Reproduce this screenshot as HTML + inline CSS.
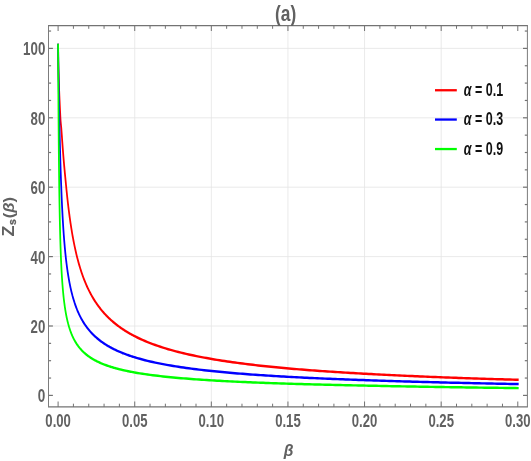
<!DOCTYPE html>
<html><head><meta charset="utf-8"><style>
html,body{margin:0;padding:0;background:#fff;}
svg{display:block;will-change:transform;}
text{font-family:"Liberation Sans",sans-serif;font-weight:bold;}
.tk{font-size:17.5px;fill:#616161;}
.lg{font-size:17.5px;fill:#111;}
</style></head><body>
<svg width="531" height="461" viewBox="0 0 531 461">
<rect width="531" height="461" fill="#fff"/>
<line x1="134.72" y1="25.5" x2="134.72" y2="407.0" stroke="#e4e4e4" stroke-width="0.8"/><line x1="211.33" y1="25.5" x2="211.33" y2="407.0" stroke="#e4e4e4" stroke-width="0.8"/><line x1="287.95" y1="25.5" x2="287.95" y2="407.0" stroke="#e4e4e4" stroke-width="0.8"/><line x1="364.56" y1="25.5" x2="364.56" y2="407.0" stroke="#e4e4e4" stroke-width="0.8"/><line x1="441.18" y1="25.5" x2="441.18" y2="407.0" stroke="#e4e4e4" stroke-width="0.8"/><line x1="48.5" y1="326.00" x2="527.4" y2="326.00" stroke="#e4e4e4" stroke-width="0.8"/><line x1="48.5" y1="256.60" x2="527.4" y2="256.60" stroke="#e4e4e4" stroke-width="0.8"/><line x1="48.5" y1="187.20" x2="527.4" y2="187.20" stroke="#e4e4e4" stroke-width="0.8"/><line x1="48.5" y1="117.80" x2="527.4" y2="117.80" stroke="#e4e4e4" stroke-width="0.8"/><line x1="48.5" y1="48.40" x2="527.4" y2="48.40" stroke="#e4e4e4" stroke-width="0.8"/>
<clipPath id="c"><rect x="48.5" y="25.5" width="478.9" height="381.5"/></clipPath>
<g clip-path="url(#c)"><g transform="scale(0.72,1)"><path d="M80.69,44.93 L80.87,59.72 L81.05,66.10 L81.23,71.17 L81.41,75.57 L81.59,79.56 L81.77,83.26 L81.95,86.75 L82.13,90.07 L82.30,93.25 L82.48,96.32 L82.66,99.29 L82.84,102.18 L83.02,104.99 L83.20,107.74 L83.38,110.42 L83.56,113.06 L83.73,115.64 L83.91,118.17 L84.09,120.30 L84.27,121.96 L84.45,123.35 L84.63,124.59 L84.81,125.81 L84.99,127.12 L85.17,128.61 L85.34,130.33 L85.52,132.11 L85.70,133.90 L85.88,135.70 L86.06,137.49 L86.24,139.27 L86.42,141.05 L86.60,142.82 L86.78,144.57 L86.95,146.31 L87.13,148.03 L87.31,149.73 L87.49,151.41 L87.67,153.06 L87.85,154.69 L88.03,156.30 L88.21,157.88 L88.38,159.43 L88.56,160.95 L88.74,162.43 L88.92,163.90 L89.10,165.34 L89.28,166.76 L89.46,168.16 L89.64,169.55 L89.82,170.92 L89.99,172.29 L90.17,173.64 L90.35,174.99 L90.53,176.33 L90.71,177.66 L90.89,178.99 L91.07,180.32 L91.25,181.65 L91.42,182.97 L91.60,184.30 L91.78,185.63 L91.96,186.96 L92.14,188.28 L92.32,189.59 L92.50,190.88 L92.68,192.15 L92.86,193.40 L93.03,194.64 L93.21,195.86 L93.39,197.06 L93.57,198.25 L93.75,199.42 L93.93,200.58 L94.11,201.72 L94.29,202.85 L94.47,203.96 L94.64,205.06 L94.82,206.14 L95.00,207.21 L95.18,208.27 L95.36,209.31 L95.54,210.34 L95.72,211.36 L95.90,212.36 L96.07,213.35 L96.25,214.33 L96.43,215.30 L96.61,216.26 L96.79,217.20 L96.97,218.13 L97.15,219.06 L97.33,219.97 L97.51,220.87 L97.68,221.76 L97.86,222.64 L98.04,223.50 L98.22,224.36 L98.40,225.21 L98.58,226.05 L98.76,226.88 L98.94,227.70 L99.11,228.51 L99.29,229.31 L99.47,230.10 L99.65,230.89 L99.83,231.66 L100.01,232.43 L100.19,233.18 L100.37,233.93 L100.55,234.67 L100.72,235.41 L100.90,236.13 L101.08,236.85 L101.26,237.56 L101.44,238.26 L101.62,238.96 L101.80,239.64 L101.98,240.32 L102.84,243.50 L103.70,246.52 L104.56,249.40 L105.42,252.15 L106.28,254.77 L107.14,257.28 L108.00,259.69 L108.86,261.99 L109.72,264.20 L110.58,266.32 L111.44,268.36 L112.29,270.32 L113.15,272.20 L114.01,274.02 L114.87,275.78 L115.73,277.47 L116.59,279.10 L117.45,280.68 L118.31,282.21 L119.17,283.69 L120.03,285.12 L120.89,286.50 L121.75,287.85 L122.61,289.15 L123.47,290.42 L124.33,291.65 L125.19,292.84 L126.05,294.00 L126.91,295.13 L127.77,296.23 L128.63,297.30 L129.49,298.35 L130.35,299.36 L131.21,300.35 L132.07,301.32 L132.93,302.26 L133.79,303.18 L134.65,304.08 L135.51,304.96 L136.37,305.81 L137.23,306.65 L138.09,307.47 L138.95,308.27 L139.81,309.05 L140.67,309.82 L141.53,310.57 L142.39,311.31 L143.25,312.03 L144.11,312.73 L144.97,313.42 L145.83,314.10 L146.69,314.77 L147.55,315.42 L148.41,316.06 L149.27,316.69 L150.13,317.30 L150.99,317.91 L151.85,318.50 L152.71,319.08 L153.57,319.65 L154.43,320.22 L155.29,320.77 L156.15,321.31 L157.01,321.85 L157.87,322.37 L158.73,322.89 L159.59,323.39 L160.45,323.89 L161.31,324.38 L162.17,324.87 L163.03,325.34 L163.89,325.81 L164.75,326.27 L165.61,326.73 L166.47,327.17 L167.33,327.61 L168.19,328.05 L169.05,328.48 L169.91,328.90 L170.77,329.31 L171.63,329.72 L172.49,330.12 L173.35,330.52 L174.21,330.91 L175.07,331.30 L175.93,331.68 L176.79,332.06 L177.65,332.43 L178.51,332.79 L179.37,333.15 L180.23,333.51 L181.09,333.86 L181.94,334.21 L182.80,334.55 L183.66,334.89 L184.52,335.22 L185.38,335.55 L186.24,335.88 L187.10,336.20 L190.67,337.49 L194.25,338.72 L197.82,339.89 L201.39,341.01 L204.96,342.08 L208.53,343.10 L212.10,344.08 L215.67,345.02 L219.24,345.91 L222.81,346.78 L226.38,347.61 L229.95,348.41 L233.52,349.18 L237.10,349.92 L240.67,350.63 L244.24,351.33 L247.81,351.99 L251.38,352.64 L254.95,353.26 L258.52,353.87 L262.09,354.45 L265.66,355.02 L269.23,355.57 L272.80,356.10 L276.37,356.62 L279.94,357.12 L283.52,357.61 L287.09,358.08 L290.66,358.54 L294.23,358.99 L297.80,359.43 L301.37,359.86 L304.94,360.27 L308.51,360.67 L312.08,361.07 L315.65,361.45 L319.22,361.83 L322.79,362.19 L326.37,362.55 L329.94,362.90 L333.51,363.24 L337.08,363.57 L340.65,363.89 L344.22,364.21 L347.79,364.52 L351.36,364.83 L354.93,365.12 L358.50,365.41 L362.07,365.70 L365.64,365.98 L369.21,366.25 L372.79,366.52 L376.36,366.78 L379.93,367.04 L383.50,367.29 L387.07,367.54 L390.64,367.78 L394.21,368.02 L397.78,368.25 L401.35,368.48 L404.92,368.70 L408.49,368.92 L412.06,369.14 L415.64,369.35 L419.21,369.56 L422.78,369.77 L426.35,369.97 L429.92,370.17 L433.49,370.36 L437.06,370.55 L440.63,370.74 L444.20,370.93 L447.77,371.11 L451.34,371.29 L454.91,371.46 L458.48,371.64 L462.06,371.81 L465.63,371.98 L469.20,372.14 L472.77,372.30 L476.34,372.46 L479.91,372.62 L483.48,372.78 L487.05,372.93 L490.62,373.08 L494.19,373.23 L497.76,373.37 L501.33,373.52 L504.91,373.66 L508.48,373.80 L512.05,373.95 L515.62,374.09 L519.19,374.22 L522.76,374.36 L526.33,374.50 L529.90,374.63 L533.47,374.76 L537.04,374.89 L540.61,375.02 L544.18,375.14 L547.75,375.27 L551.33,375.39 L554.90,375.51 L558.47,375.63 L562.04,375.75 L565.61,375.86 L569.18,375.98 L572.75,376.09 L576.32,376.21 L579.89,376.32 L583.46,376.43 L587.03,376.53 L590.60,376.64 L594.17,376.75 L597.75,376.85 L601.32,376.95 L604.89,377.05 L608.46,377.15 L612.03,377.25 L615.60,377.35 L619.17,377.45 L622.74,377.54 L626.31,377.64 L629.88,377.73 L633.45,377.83 L637.02,377.92 L640.60,378.01 L644.17,378.10 L647.74,378.19 L651.31,378.27 L654.88,378.36 L658.45,378.45 L662.02,378.53 L665.59,378.61 L669.16,378.70 L672.73,378.78 L676.30,378.86 L679.87,378.94 L683.44,379.02 L687.02,379.10 L690.59,379.18 L694.16,379.25 L697.73,379.33 L701.30,379.41 L704.87,379.48 L708.44,379.55 L712.01,379.63 L715.58,379.70 L719.15,379.77" fill="none" stroke="#ff0000" stroke-width="2.45" stroke-linejoin="round" stroke-linecap="square"/><path d="M80.69,44.93 L80.87,54.43 L81.05,63.47 L81.23,72.07 L81.41,80.27 L81.59,88.08 L81.77,95.53 L81.95,102.63 L82.13,109.42 L82.30,115.89 L82.48,122.08 L82.66,128.00 L82.84,133.66 L83.02,139.08 L83.20,144.26 L83.38,149.23 L83.56,154.00 L83.73,158.56 L83.91,162.95 L84.09,167.15 L84.27,171.19 L84.45,175.08 L84.63,178.81 L84.81,182.40 L84.99,185.86 L85.17,189.19 L85.34,192.40 L85.52,195.49 L85.70,198.47 L85.88,201.34 L86.06,204.12 L86.24,206.80 L86.42,209.40 L86.60,211.90 L86.78,214.32 L86.95,216.67 L87.13,218.94 L87.31,221.14 L87.49,223.27 L87.67,225.33 L87.85,227.33 L88.03,229.28 L88.21,231.16 L88.38,232.99 L88.56,234.77 L88.74,236.50 L88.92,238.18 L89.10,239.81 L89.28,241.40 L89.46,242.95 L89.64,244.46 L89.82,245.92 L89.99,247.35 L90.17,248.75 L90.35,250.11 L90.53,251.43 L90.71,252.72 L90.89,253.99 L91.07,255.22 L91.25,256.42 L91.42,257.60 L91.60,258.75 L91.78,259.87 L91.96,260.97 L92.14,262.04 L92.32,263.10 L92.50,264.13 L92.68,265.13 L92.86,266.12 L93.03,267.08 L93.21,268.03 L93.39,268.96 L93.57,269.87 L93.75,270.76 L93.93,271.63 L94.11,272.49 L94.29,273.33 L94.47,274.16 L94.64,274.97 L94.82,275.76 L95.00,276.55 L95.18,277.31 L95.36,278.07 L95.54,278.81 L95.72,279.54 L95.90,280.25 L96.07,280.96 L96.25,281.65 L96.43,282.33 L96.61,283.00 L96.79,283.66 L96.97,284.31 L97.15,284.94 L97.33,285.57 L97.51,286.19 L97.68,286.80 L97.86,287.40 L98.04,287.99 L98.22,288.57 L98.40,289.14 L98.58,289.71 L98.76,290.26 L98.94,290.81 L99.11,291.35 L99.29,291.89 L99.47,292.41 L99.65,292.93 L99.83,293.44 L100.01,293.95 L100.19,294.45 L100.37,294.94 L100.55,295.42 L100.72,295.90 L100.90,296.37 L101.08,296.84 L101.26,297.30 L101.44,297.75 L101.62,298.20 L101.80,298.65 L101.98,299.08 L102.84,301.12 L103.70,303.04 L104.56,304.85 L105.42,306.58 L106.28,308.22 L107.14,309.78 L108.00,311.26 L108.86,312.68 L109.72,314.04 L110.58,315.34 L111.44,316.58 L112.29,317.78 L113.15,318.93 L114.01,320.03 L114.87,321.10 L115.73,322.12 L116.59,323.11 L117.45,324.06 L118.31,324.99 L119.17,325.88 L120.03,326.74 L120.89,327.57 L121.75,328.38 L122.61,329.17 L123.47,329.93 L124.33,330.67 L125.19,331.38 L126.05,332.08 L126.91,332.76 L127.77,333.42 L128.63,334.06 L129.49,334.68 L130.35,335.29 L131.21,335.89 L132.07,336.46 L132.93,337.03 L133.79,337.58 L134.65,338.12 L135.51,338.64 L136.37,339.15 L137.23,339.66 L138.09,340.15 L138.95,340.62 L139.81,341.09 L140.67,341.55 L141.53,342.00 L142.39,342.44 L143.25,342.87 L144.11,343.29 L144.97,343.70 L145.83,344.11 L146.69,344.51 L147.55,344.90 L148.41,345.28 L149.27,345.65 L150.13,346.02 L150.99,346.38 L151.85,346.74 L152.71,347.08 L153.57,347.43 L154.43,347.76 L155.29,348.09 L156.15,348.42 L157.01,348.73 L157.87,349.05 L158.73,349.36 L159.59,349.66 L160.45,349.96 L161.31,350.25 L162.17,350.54 L163.03,350.82 L163.89,351.10 L164.75,351.38 L165.61,351.65 L166.47,351.92 L167.33,352.18 L168.19,352.44 L169.05,352.70 L169.91,352.95 L170.77,353.20 L171.63,353.44 L172.49,353.68 L173.35,353.92 L174.21,354.15 L175.07,354.38 L175.93,354.61 L176.79,354.84 L177.65,355.06 L178.51,355.28 L179.37,355.49 L180.23,355.70 L181.09,355.92 L181.94,356.12 L182.80,356.33 L183.66,356.53 L184.52,356.73 L185.38,356.93 L186.24,357.12 L187.10,357.31 L190.67,358.09 L194.25,358.82 L197.82,359.53 L201.39,360.20 L204.96,360.84 L208.53,361.45 L212.10,362.04 L215.67,362.60 L219.24,363.14 L222.81,363.66 L226.38,364.16 L229.95,364.64 L233.52,365.10 L237.10,365.55 L240.67,365.98 L244.24,366.40 L247.81,366.80 L251.38,367.19 L254.95,367.57 L258.52,367.93 L262.09,368.28 L265.66,368.63 L269.23,368.96 L272.80,369.28 L276.37,369.60 L279.94,369.90 L283.52,370.20 L287.09,370.49 L290.66,370.77 L294.23,371.04 L297.80,371.31 L301.37,371.56 L304.94,371.82 L308.51,372.06 L312.08,372.30 L315.65,372.54 L319.22,372.77 L322.79,372.99 L326.37,373.21 L329.94,373.42 L333.51,373.63 L337.08,373.83 L340.65,374.03 L344.22,374.23 L347.79,374.42 L351.36,374.61 L354.93,374.79 L358.50,374.97 L362.07,375.14 L365.64,375.31 L369.21,375.48 L372.79,375.65 L376.36,375.81 L379.93,375.97 L383.50,376.12 L387.07,376.28 L390.64,376.43 L394.21,376.57 L397.78,376.72 L401.35,376.86 L404.92,377.00 L408.49,377.13 L412.06,377.27 L415.64,377.40 L419.21,377.53 L422.78,377.66 L426.35,377.78 L429.92,377.91 L433.49,378.03 L437.06,378.15 L440.63,378.26 L444.20,378.38 L447.77,378.49 L451.34,378.60 L454.91,378.71 L458.48,378.82 L462.06,378.93 L465.63,379.03 L469.20,379.14 L472.77,379.24 L476.34,379.34 L479.91,379.44 L483.48,379.54 L487.05,379.63 L490.62,379.73 L494.19,379.82 L497.76,379.91 L501.33,380.00 L504.91,380.09 L508.48,380.18 L512.05,380.27 L515.62,380.36 L519.19,380.45 L522.76,380.54 L526.33,380.63 L529.90,380.71 L533.47,380.80 L537.04,380.88 L540.61,380.96 L544.18,381.04 L547.75,381.12 L551.33,381.20 L554.90,381.28 L558.47,381.36 L562.04,381.43 L565.61,381.51 L569.18,381.58 L572.75,381.66 L576.32,381.73 L579.89,381.80 L583.46,381.87 L587.03,381.94 L590.60,382.01 L594.17,382.08 L597.75,382.15 L601.32,382.21 L604.89,382.28 L608.46,382.34 L612.03,382.41 L615.60,382.47 L619.17,382.54 L622.74,382.60 L626.31,382.66 L629.88,382.72 L633.45,382.78 L637.02,382.84 L640.60,382.90 L644.17,382.96 L647.74,383.02 L651.31,383.07 L654.88,383.13 L658.45,383.19 L662.02,383.24 L665.59,383.30 L669.16,383.35 L672.73,383.40 L676.30,383.46 L679.87,383.51 L683.44,383.56 L687.02,383.61 L690.59,383.66 L694.16,383.72 L697.73,383.77 L701.30,383.82 L704.87,383.86 L708.44,383.91 L712.01,383.96 L715.58,384.01 L719.15,384.06" fill="none" stroke="#0000ff" stroke-width="2.45" stroke-linejoin="round" stroke-linecap="square"/><path d="M80.69,44.93 L80.87,69.94 L81.05,91.82 L81.23,111.02 L81.41,127.94 L81.59,142.91 L81.77,156.21 L81.95,168.07 L82.13,178.68 L82.30,188.21 L82.48,196.80 L82.66,204.58 L82.84,211.65 L83.02,218.10 L83.20,223.99 L83.38,229.40 L83.56,234.38 L83.73,238.98 L83.91,243.24 L84.09,247.20 L84.27,250.89 L84.45,254.33 L84.63,257.56 L84.81,260.58 L84.99,263.43 L85.17,266.11 L85.34,268.64 L85.52,271.04 L85.70,273.31 L85.88,275.46 L86.06,277.52 L86.24,279.47 L86.42,281.33 L86.60,283.11 L86.78,284.82 L86.95,286.45 L87.13,288.01 L87.31,289.51 L87.49,290.96 L87.67,292.34 L87.85,293.68 L88.03,294.97 L88.21,296.21 L88.38,297.41 L88.56,298.57 L88.74,299.69 L88.92,300.77 L89.10,301.82 L89.28,302.84 L89.46,303.83 L89.64,304.78 L89.82,305.71 L89.99,306.61 L90.17,307.49 L90.35,308.35 L90.53,309.18 L90.71,309.98 L90.89,310.77 L91.07,311.54 L91.25,312.28 L91.42,313.01 L91.60,313.72 L91.78,314.42 L91.96,315.10 L92.14,315.76 L92.32,316.41 L92.50,317.04 L92.68,317.66 L92.86,318.26 L93.03,318.85 L93.21,319.43 L93.39,320.00 L93.57,320.55 L93.75,321.10 L93.93,321.63 L94.11,322.15 L94.29,322.66 L94.47,323.17 L94.64,323.66 L94.82,324.14 L95.00,324.62 L95.18,325.08 L95.36,325.54 L95.54,325.99 L95.72,326.43 L95.90,326.86 L96.07,327.29 L96.25,327.71 L96.43,328.12 L96.61,328.52 L96.79,328.92 L96.97,329.31 L97.15,329.70 L97.33,330.08 L97.51,330.45 L97.68,330.82 L97.86,331.18 L98.04,331.53 L98.22,331.88 L98.40,332.23 L98.58,332.57 L98.76,332.90 L98.94,333.23 L99.11,333.56 L99.29,333.88 L99.47,334.20 L99.65,334.51 L99.83,334.81 L100.01,335.12 L100.19,335.42 L100.37,335.71 L100.55,336.00 L100.72,336.29 L100.90,336.57 L101.08,336.85 L101.26,337.13 L101.44,337.40 L101.62,337.67 L101.80,337.93 L101.98,338.20 L102.84,339.41 L103.70,340.56 L104.56,341.64 L105.42,342.67 L106.28,343.65 L107.14,344.58 L108.00,345.46 L108.86,346.31 L109.72,347.11 L110.58,347.89 L111.44,348.62 L112.29,349.33 L113.15,350.01 L114.01,350.67 L114.87,351.30 L115.73,351.90 L116.59,352.49 L117.45,353.05 L118.31,353.59 L119.17,354.12 L120.03,354.63 L120.89,355.12 L121.75,355.60 L122.61,356.06 L123.47,356.51 L124.33,356.94 L125.19,357.36 L126.05,357.77 L126.91,358.17 L127.77,358.56 L128.63,358.93 L129.49,359.30 L130.35,359.66 L131.21,360.01 L132.07,360.34 L132.93,360.68 L133.79,361.00 L134.65,361.31 L135.51,361.62 L136.37,361.92 L137.23,362.21 L138.09,362.50 L138.95,362.78 L139.81,363.05 L140.67,363.32 L141.53,363.58 L142.39,363.84 L143.25,364.09 L144.11,364.34 L144.97,364.58 L145.83,364.81 L146.69,365.04 L147.55,365.27 L148.41,365.49 L149.27,365.71 L150.13,365.93 L150.99,366.14 L151.85,366.34 L152.71,366.54 L153.57,366.74 L154.43,366.94 L155.29,367.13 L156.15,367.32 L157.01,367.50 L157.87,367.69 L158.73,367.87 L159.59,368.04 L160.45,368.21 L161.31,368.39 L162.17,368.55 L163.03,368.72 L163.89,368.88 L164.75,369.04 L165.61,369.20 L166.47,369.35 L167.33,369.50 L168.19,369.66 L169.05,369.80 L169.91,369.95 L170.77,370.09 L171.63,370.23 L172.49,370.37 L173.35,370.51 L174.21,370.65 L175.07,370.78 L175.93,370.91 L176.79,371.04 L177.65,371.17 L178.51,371.30 L179.37,371.42 L180.23,371.55 L181.09,371.67 L181.94,371.79 L182.80,371.91 L183.66,372.02 L184.52,372.14 L185.38,372.25 L186.24,372.36 L187.10,372.48 L190.67,372.92 L194.25,373.35 L197.82,373.75 L201.39,374.14 L204.96,374.51 L208.53,374.86 L212.10,375.20 L215.67,375.52 L219.24,375.84 L222.81,376.13 L226.38,376.42 L229.95,376.70 L233.52,376.96 L237.10,377.22 L240.67,377.47 L244.24,377.71 L247.81,377.94 L251.38,378.16 L254.95,378.38 L258.52,378.59 L262.09,378.79 L265.66,378.99 L269.23,379.18 L272.80,379.37 L276.37,379.55 L279.94,379.72 L283.52,379.89 L287.09,380.06 L290.66,380.22 L294.23,380.37 L297.80,380.53 L301.37,380.68 L304.94,380.82 L308.51,380.96 L312.08,381.10 L315.65,381.23 L319.22,381.36 L322.79,381.49 L326.37,381.62 L329.94,381.74 L333.51,381.86 L337.08,381.98 L340.65,382.09 L344.22,382.20 L347.79,382.31 L351.36,382.42 L354.93,382.52 L358.50,382.62 L362.07,382.72 L365.64,382.82 L369.21,382.92 L372.79,383.01 L376.36,383.11 L379.93,383.20 L383.50,383.29 L387.07,383.37 L390.64,383.46 L394.21,383.54 L397.78,383.63 L401.35,383.71 L404.92,383.79 L408.49,383.86 L412.06,383.94 L415.64,384.02 L419.21,384.09 L422.78,384.16 L426.35,384.24 L429.92,384.31 L433.49,384.38 L437.06,384.44 L440.63,384.51 L444.20,384.58 L447.77,384.64 L451.34,384.71 L454.91,384.77 L458.48,384.83 L462.06,384.89 L465.63,384.95 L469.20,385.01 L472.77,385.07 L476.34,385.13 L479.91,385.18 L483.48,385.24 L487.05,385.29 L490.62,385.35 L494.19,385.40 L497.76,385.45 L501.33,385.50 L504.91,385.56 L508.48,385.61 L512.05,385.67 L515.62,385.73 L519.19,385.78 L522.76,385.84 L526.33,385.89 L529.90,385.95 L533.47,386.00 L537.04,386.05 L540.61,386.11 L544.18,386.16 L547.75,386.21 L551.33,386.26 L554.90,386.31 L558.47,386.36 L562.04,386.40 L565.61,386.45 L569.18,386.50 L572.75,386.55 L576.32,386.59 L579.89,386.64 L583.46,386.68 L587.03,386.73 L590.60,386.77 L594.17,386.82 L597.75,386.86 L601.32,386.90 L604.89,386.94 L608.46,386.99 L612.03,387.03 L615.60,387.07 L619.17,387.11 L622.74,387.15 L626.31,387.19 L629.88,387.23 L633.45,387.27 L637.02,387.30 L640.60,387.34 L644.17,387.38 L647.74,387.42 L651.31,387.45 L654.88,387.49 L658.45,387.53 L662.02,387.56 L665.59,387.60 L669.16,387.63 L672.73,387.67 L676.30,387.70 L679.87,387.73 L683.44,387.77 L687.02,387.80 L690.59,387.83 L694.16,387.87 L697.73,387.90 L701.30,387.93 L704.87,387.96 L708.44,388.00 L712.01,388.03 L715.58,388.06 L719.15,388.09" fill="none" stroke="#00ff00" stroke-width="2.45" stroke-linejoin="round" stroke-linecap="square"/></g></g>
<line x1="58.10" y1="407.0" x2="58.10" y2="401.5" stroke="#737373" stroke-width="1"/><line x1="58.10" y1="25.5" x2="58.10" y2="31.0" stroke="#737373" stroke-width="1"/><line x1="73.42" y1="407.0" x2="73.42" y2="403.7" stroke="#737373" stroke-width="1"/><line x1="73.42" y1="25.5" x2="73.42" y2="28.8" stroke="#737373" stroke-width="1"/><line x1="88.75" y1="407.0" x2="88.75" y2="403.7" stroke="#737373" stroke-width="1"/><line x1="88.75" y1="25.5" x2="88.75" y2="28.8" stroke="#737373" stroke-width="1"/><line x1="104.07" y1="407.0" x2="104.07" y2="403.7" stroke="#737373" stroke-width="1"/><line x1="104.07" y1="25.5" x2="104.07" y2="28.8" stroke="#737373" stroke-width="1"/><line x1="119.39" y1="407.0" x2="119.39" y2="403.7" stroke="#737373" stroke-width="1"/><line x1="119.39" y1="25.5" x2="119.39" y2="28.8" stroke="#737373" stroke-width="1"/><line x1="134.72" y1="407.0" x2="134.72" y2="401.5" stroke="#737373" stroke-width="1"/><line x1="134.72" y1="25.5" x2="134.72" y2="31.0" stroke="#737373" stroke-width="1"/><line x1="150.04" y1="407.0" x2="150.04" y2="403.7" stroke="#737373" stroke-width="1"/><line x1="150.04" y1="25.5" x2="150.04" y2="28.8" stroke="#737373" stroke-width="1"/><line x1="165.36" y1="407.0" x2="165.36" y2="403.7" stroke="#737373" stroke-width="1"/><line x1="165.36" y1="25.5" x2="165.36" y2="28.8" stroke="#737373" stroke-width="1"/><line x1="180.68" y1="407.0" x2="180.68" y2="403.7" stroke="#737373" stroke-width="1"/><line x1="180.68" y1="25.5" x2="180.68" y2="28.8" stroke="#737373" stroke-width="1"/><line x1="196.01" y1="407.0" x2="196.01" y2="403.7" stroke="#737373" stroke-width="1"/><line x1="196.01" y1="25.5" x2="196.01" y2="28.8" stroke="#737373" stroke-width="1"/><line x1="211.33" y1="407.0" x2="211.33" y2="401.5" stroke="#737373" stroke-width="1"/><line x1="211.33" y1="25.5" x2="211.33" y2="31.0" stroke="#737373" stroke-width="1"/><line x1="226.65" y1="407.0" x2="226.65" y2="403.7" stroke="#737373" stroke-width="1"/><line x1="226.65" y1="25.5" x2="226.65" y2="28.8" stroke="#737373" stroke-width="1"/><line x1="241.98" y1="407.0" x2="241.98" y2="403.7" stroke="#737373" stroke-width="1"/><line x1="241.98" y1="25.5" x2="241.98" y2="28.8" stroke="#737373" stroke-width="1"/><line x1="257.30" y1="407.0" x2="257.30" y2="403.7" stroke="#737373" stroke-width="1"/><line x1="257.30" y1="25.5" x2="257.30" y2="28.8" stroke="#737373" stroke-width="1"/><line x1="272.62" y1="407.0" x2="272.62" y2="403.7" stroke="#737373" stroke-width="1"/><line x1="272.62" y1="25.5" x2="272.62" y2="28.8" stroke="#737373" stroke-width="1"/><line x1="287.94" y1="407.0" x2="287.94" y2="401.5" stroke="#737373" stroke-width="1"/><line x1="287.94" y1="25.5" x2="287.94" y2="31.0" stroke="#737373" stroke-width="1"/><line x1="303.27" y1="407.0" x2="303.27" y2="403.7" stroke="#737373" stroke-width="1"/><line x1="303.27" y1="25.5" x2="303.27" y2="28.8" stroke="#737373" stroke-width="1"/><line x1="318.59" y1="407.0" x2="318.59" y2="403.7" stroke="#737373" stroke-width="1"/><line x1="318.59" y1="25.5" x2="318.59" y2="28.8" stroke="#737373" stroke-width="1"/><line x1="333.91" y1="407.0" x2="333.91" y2="403.7" stroke="#737373" stroke-width="1"/><line x1="333.91" y1="25.5" x2="333.91" y2="28.8" stroke="#737373" stroke-width="1"/><line x1="349.24" y1="407.0" x2="349.24" y2="403.7" stroke="#737373" stroke-width="1"/><line x1="349.24" y1="25.5" x2="349.24" y2="28.8" stroke="#737373" stroke-width="1"/><line x1="364.56" y1="407.0" x2="364.56" y2="401.5" stroke="#737373" stroke-width="1"/><line x1="364.56" y1="25.5" x2="364.56" y2="31.0" stroke="#737373" stroke-width="1"/><line x1="379.88" y1="407.0" x2="379.88" y2="403.7" stroke="#737373" stroke-width="1"/><line x1="379.88" y1="25.5" x2="379.88" y2="28.8" stroke="#737373" stroke-width="1"/><line x1="395.21" y1="407.0" x2="395.21" y2="403.7" stroke="#737373" stroke-width="1"/><line x1="395.21" y1="25.5" x2="395.21" y2="28.8" stroke="#737373" stroke-width="1"/><line x1="410.53" y1="407.0" x2="410.53" y2="403.7" stroke="#737373" stroke-width="1"/><line x1="410.53" y1="25.5" x2="410.53" y2="28.8" stroke="#737373" stroke-width="1"/><line x1="425.85" y1="407.0" x2="425.85" y2="403.7" stroke="#737373" stroke-width="1"/><line x1="425.85" y1="25.5" x2="425.85" y2="28.8" stroke="#737373" stroke-width="1"/><line x1="441.18" y1="407.0" x2="441.18" y2="401.5" stroke="#737373" stroke-width="1"/><line x1="441.18" y1="25.5" x2="441.18" y2="31.0" stroke="#737373" stroke-width="1"/><line x1="456.50" y1="407.0" x2="456.50" y2="403.7" stroke="#737373" stroke-width="1"/><line x1="456.50" y1="25.5" x2="456.50" y2="28.8" stroke="#737373" stroke-width="1"/><line x1="471.82" y1="407.0" x2="471.82" y2="403.7" stroke="#737373" stroke-width="1"/><line x1="471.82" y1="25.5" x2="471.82" y2="28.8" stroke="#737373" stroke-width="1"/><line x1="487.14" y1="407.0" x2="487.14" y2="403.7" stroke="#737373" stroke-width="1"/><line x1="487.14" y1="25.5" x2="487.14" y2="28.8" stroke="#737373" stroke-width="1"/><line x1="502.47" y1="407.0" x2="502.47" y2="403.7" stroke="#737373" stroke-width="1"/><line x1="502.47" y1="25.5" x2="502.47" y2="28.8" stroke="#737373" stroke-width="1"/><line x1="517.79" y1="407.0" x2="517.79" y2="401.5" stroke="#737373" stroke-width="1"/><line x1="517.79" y1="25.5" x2="517.79" y2="31.0" stroke="#737373" stroke-width="1"/><line x1="48.5" y1="395.40" x2="52.9" y2="395.40" stroke="#737373" stroke-width="1.2"/><line x1="527.4" y1="395.40" x2="523.0" y2="395.40" stroke="#737373" stroke-width="1.2"/><line x1="48.5" y1="378.05" x2="51.1" y2="378.05" stroke="#737373" stroke-width="1.2"/><line x1="527.4" y1="378.05" x2="524.8" y2="378.05" stroke="#737373" stroke-width="1.2"/><line x1="48.5" y1="360.70" x2="51.1" y2="360.70" stroke="#737373" stroke-width="1.2"/><line x1="527.4" y1="360.70" x2="524.8" y2="360.70" stroke="#737373" stroke-width="1.2"/><line x1="48.5" y1="343.35" x2="51.1" y2="343.35" stroke="#737373" stroke-width="1.2"/><line x1="527.4" y1="343.35" x2="524.8" y2="343.35" stroke="#737373" stroke-width="1.2"/><line x1="48.5" y1="326.00" x2="52.9" y2="326.00" stroke="#737373" stroke-width="1.2"/><line x1="527.4" y1="326.00" x2="523.0" y2="326.00" stroke="#737373" stroke-width="1.2"/><line x1="48.5" y1="308.65" x2="51.1" y2="308.65" stroke="#737373" stroke-width="1.2"/><line x1="527.4" y1="308.65" x2="524.8" y2="308.65" stroke="#737373" stroke-width="1.2"/><line x1="48.5" y1="291.30" x2="51.1" y2="291.30" stroke="#737373" stroke-width="1.2"/><line x1="527.4" y1="291.30" x2="524.8" y2="291.30" stroke="#737373" stroke-width="1.2"/><line x1="48.5" y1="273.95" x2="51.1" y2="273.95" stroke="#737373" stroke-width="1.2"/><line x1="527.4" y1="273.95" x2="524.8" y2="273.95" stroke="#737373" stroke-width="1.2"/><line x1="48.5" y1="256.60" x2="52.9" y2="256.60" stroke="#737373" stroke-width="1.2"/><line x1="527.4" y1="256.60" x2="523.0" y2="256.60" stroke="#737373" stroke-width="1.2"/><line x1="48.5" y1="239.25" x2="51.1" y2="239.25" stroke="#737373" stroke-width="1.2"/><line x1="527.4" y1="239.25" x2="524.8" y2="239.25" stroke="#737373" stroke-width="1.2"/><line x1="48.5" y1="221.90" x2="51.1" y2="221.90" stroke="#737373" stroke-width="1.2"/><line x1="527.4" y1="221.90" x2="524.8" y2="221.90" stroke="#737373" stroke-width="1.2"/><line x1="48.5" y1="204.55" x2="51.1" y2="204.55" stroke="#737373" stroke-width="1.2"/><line x1="527.4" y1="204.55" x2="524.8" y2="204.55" stroke="#737373" stroke-width="1.2"/><line x1="48.5" y1="187.20" x2="52.9" y2="187.20" stroke="#737373" stroke-width="1.2"/><line x1="527.4" y1="187.20" x2="523.0" y2="187.20" stroke="#737373" stroke-width="1.2"/><line x1="48.5" y1="169.85" x2="51.1" y2="169.85" stroke="#737373" stroke-width="1.2"/><line x1="527.4" y1="169.85" x2="524.8" y2="169.85" stroke="#737373" stroke-width="1.2"/><line x1="48.5" y1="152.50" x2="51.1" y2="152.50" stroke="#737373" stroke-width="1.2"/><line x1="527.4" y1="152.50" x2="524.8" y2="152.50" stroke="#737373" stroke-width="1.2"/><line x1="48.5" y1="135.15" x2="51.1" y2="135.15" stroke="#737373" stroke-width="1.2"/><line x1="527.4" y1="135.15" x2="524.8" y2="135.15" stroke="#737373" stroke-width="1.2"/><line x1="48.5" y1="117.80" x2="52.9" y2="117.80" stroke="#737373" stroke-width="1.2"/><line x1="527.4" y1="117.80" x2="523.0" y2="117.80" stroke="#737373" stroke-width="1.2"/><line x1="48.5" y1="100.45" x2="51.1" y2="100.45" stroke="#737373" stroke-width="1.2"/><line x1="527.4" y1="100.45" x2="524.8" y2="100.45" stroke="#737373" stroke-width="1.2"/><line x1="48.5" y1="83.10" x2="51.1" y2="83.10" stroke="#737373" stroke-width="1.2"/><line x1="527.4" y1="83.10" x2="524.8" y2="83.10" stroke="#737373" stroke-width="1.2"/><line x1="48.5" y1="65.75" x2="51.1" y2="65.75" stroke="#737373" stroke-width="1.2"/><line x1="527.4" y1="65.75" x2="524.8" y2="65.75" stroke="#737373" stroke-width="1.2"/><line x1="48.5" y1="48.40" x2="52.9" y2="48.40" stroke="#737373" stroke-width="1.2"/><line x1="527.4" y1="48.40" x2="523.0" y2="48.40" stroke="#737373" stroke-width="1.2"/><line x1="48.5" y1="31.05" x2="51.1" y2="31.05" stroke="#737373" stroke-width="1.2"/><line x1="527.4" y1="31.05" x2="524.8" y2="31.05" stroke="#737373" stroke-width="1.2"/>
<line x1="48.0" y1="25.7" x2="527.9" y2="25.7" stroke="#737373" stroke-width="1.25"/><line x1="48.0" y1="406.9" x2="527.9" y2="406.9" stroke="#737373" stroke-width="1.25"/><line x1="48.5" y1="25.5" x2="48.5" y2="407.0" stroke="#7c7c7c" stroke-width="1"/><line x1="527.4" y1="25.5" x2="527.4" y2="407.0" stroke="#7c7c7c" stroke-width="1"/>
<text x="58.10" y="426.6" text-anchor="middle" class="tk" textLength="25.5" lengthAdjust="spacingAndGlyphs">0.00</text><text x="134.72" y="426.6" text-anchor="middle" class="tk" textLength="25.5" lengthAdjust="spacingAndGlyphs">0.05</text><text x="211.33" y="426.6" text-anchor="middle" class="tk" textLength="25.5" lengthAdjust="spacingAndGlyphs">0.10</text><text x="287.95" y="426.6" text-anchor="middle" class="tk" textLength="25.5" lengthAdjust="spacingAndGlyphs">0.15</text><text x="364.56" y="426.6" text-anchor="middle" class="tk" textLength="25.5" lengthAdjust="spacingAndGlyphs">0.20</text><text x="441.18" y="426.6" text-anchor="middle" class="tk" textLength="25.5" lengthAdjust="spacingAndGlyphs">0.25</text><text x="517.79" y="426.6" text-anchor="middle" class="tk" textLength="25.5" lengthAdjust="spacingAndGlyphs">0.30</text><text x="45.3" y="402.30" text-anchor="end" class="tk" textLength="7.5" lengthAdjust="spacingAndGlyphs">0</text><text x="45.3" y="332.90" text-anchor="end" class="tk" textLength="14.7" lengthAdjust="spacingAndGlyphs">20</text><text x="45.3" y="263.50" text-anchor="end" class="tk" textLength="14.7" lengthAdjust="spacingAndGlyphs">40</text><text x="45.3" y="194.10" text-anchor="end" class="tk" textLength="14.7" lengthAdjust="spacingAndGlyphs">60</text><text x="45.3" y="124.70" text-anchor="end" class="tk" textLength="14.7" lengthAdjust="spacingAndGlyphs">80</text><text x="45.3" y="55.30" text-anchor="end" class="tk" textLength="22.2" lengthAdjust="spacingAndGlyphs">100</text>
<line x1="435" y1="90.25" x2="456.8" y2="90.25" stroke="#ff0000" stroke-width="2.3"/><text x="463.8" y="96.0" class="lg" textLength="39.3" lengthAdjust="spacingAndGlyphs"><tspan font-style="italic">α</tspan> = 0.1</text><line x1="435" y1="119.55" x2="456.8" y2="119.55" stroke="#0000ff" stroke-width="2.3"/><text x="463.8" y="125.3" class="lg" textLength="39.3" lengthAdjust="spacingAndGlyphs"><tspan font-style="italic">α</tspan> = 0.3</text><line x1="435" y1="149.05" x2="456.8" y2="149.05" stroke="#00ff00" stroke-width="2.3"/><text x="463.8" y="154.8" class="lg" textLength="39.3" lengthAdjust="spacingAndGlyphs"><tspan font-style="italic">α</tspan> = 0.9</text>
<text x="285.7" y="20.6" text-anchor="middle" style="font-size:22px;fill:#616161" textLength="21.2" lengthAdjust="spacingAndGlyphs">(a)</text>
<text x="288.7" y="455.7" text-anchor="middle" textLength="9.7" lengthAdjust="spacingAndGlyphs" style="font-size:17px;fill:#616161;font-style:italic">β</text>
<g transform="translate(14.1,236.2) rotate(-90)" style="font-size:16.5px;fill:#616161">
<text x="-0.4" y="0" style="font-size:16px" textLength="11" lengthAdjust="spacingAndGlyphs">Z</text>
<text x="11.2" y="1.7" style="font-size:10.5px;stroke:#616161;stroke-width:0.3">s</text>
<text x="18.0" y="0" textLength="21.3" lengthAdjust="spacingAndGlyphs" style="font-size:15px">(<tspan font-style="italic">β</tspan>)</text>
</g>
</svg>
</body></html>
